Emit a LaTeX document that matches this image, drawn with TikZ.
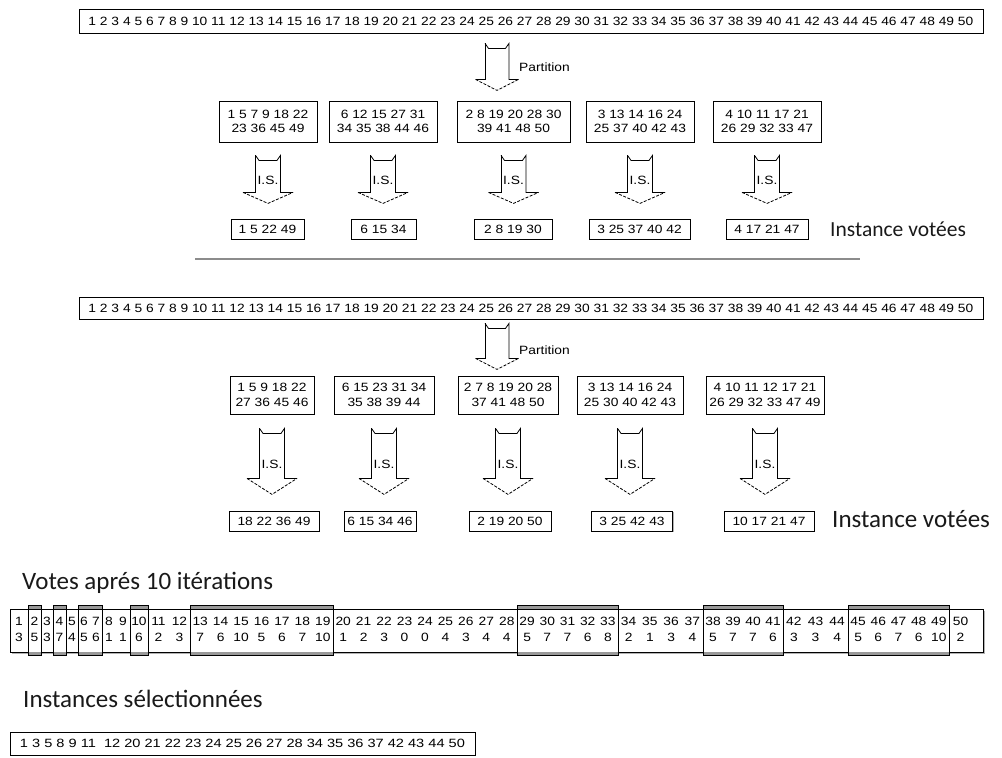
\documentclass[tikz,border=0pt]{standalone}
\usepackage{fontspec}
\usepackage{graphicx}
\usetikzlibrary{calc,shadows}
\newfontfamily\numfont[FakeStretch=1.15]{Liberation Sans}
\newfontfamily\lblfont{Carlito}
\newcommand\numsz{\numfont\fontsize{12}{14.5}\selectfont}
\newcommand\ttlsz[1]{\lblfont\fontsize{#1}{#1}\selectfont}

\begin{document}
\begin{tikzpicture}[x=1pt,y=-1pt,
  box/.style={draw=black, line width=0.8pt, fill=white, inner sep=0pt,
    align=center, font=\numsz,
    drop shadow={shadow xshift=1.2pt, shadow yshift=-1.2pt, fill=black, opacity=0.3}},
  arrline/.style={draw=black, line width=0.8pt, line join=miter},
  arrhead/.style={draw=black, line width=0.8pt, dash pattern=on 3pt off 1.5pt},
  islbl/.style={font=\numsz, inner sep=0pt},
  partlbl/.style={font=\numsz, inner sep=0pt, anchor=west},
  ttl/.style={inner sep=0pt, text=black!90},
  sepline/.style={draw=black!45, line width=1.2pt},
  tblline/.style={draw=black, line width=0.8pt},
  hiband/.style={fill=black!40},
  pics/blockarrow/.style n args={4}{code={
    % #1 shaft half width, #2 head half width, #3 shoulder depth, #4 tip depth
    \draw[arrline] (-#1,0) -- (-#1+3.5,5) -- (#1-3.5,5) -- (#1,0) -- (#1,#3) -- (#2,#3);
    \draw[arrline] (-#1,0) -- (-#1,#3) -- (-#2,#3);
    \draw[arrhead] (-#2,#3) -- (0,#4) -- (#2,#3);
  }},
]
\useasboundingbox (0,0) rectangle (1002,758);

% ---------- first run ----------
\node[box, minimum width=904pt, minimum height=24pt] (bar1) at (531,21)
  {\resizebox{885pt}{\height}{\numsz 1 2 3 4 5 6 7 8 9 10 11 12 13 14 15 16 17 18 19 20 21 22 23 24 25 26 27 28 29 30 31 32 33 34 35 36 37 38 39 40 41 42 43 44 45 46 47 48 49 50}};

\pic at ($(bar1.south)+(-34,10)$) {blockarrow={12}{21.5}{36}{47}};
\node[partlbl] (part1) at ($(bar1.south)+(-12,34)$) {Partition};

\node[box, minimum width=98pt,  minimum height=41pt] (p1) at (268,121.5)   {1 5 7 9 18 22\\23 36 45 49};
\node[box, minimum width=108pt, minimum height=41pt] (p2) at (383,121.5)   {6 12 15 27 31\\34 35 38 44 46};
\node[box, minimum width=113pt, minimum height=41pt] (p3) at (513.5,121.5) {2 8 19 20 28 30\\39 41 48 50};
\node[box, minimum width=108pt, minimum height=41pt] (p4) at (640,121.5)   {3 13 14 16 24\\25 37 40 42 43};
\node[box, minimum width=108pt, minimum height=41pt] (p5) at (767,121.5)   {4 10 11 17 21\\26 29 32 33 47};

\foreach \i in {1,...,5}{
  \pic at ($(p\i.south)+(0,13)$) {blockarrow={12.5}{25}{37}{48}};
  \node[islbl] (is\i) at ($(p\i.south)+(0,38)$) {I.S.};
}

\node[box, minimum width=73pt,  minimum height=20pt] (r1) at (267.5,229) {1 5 22 49};
\node[box, minimum width=65pt,  minimum height=20pt] (r2) at (383.5,229) {6 15 34};
\node[box, minimum width=78pt,  minimum height=20pt] (r3) at (513,229)   {2 8 19 30};
\node[box, minimum width=101pt, minimum height=20pt] (r4) at (639.5,229) {3 25 37 40 42};
\node[box, minimum width=82pt,  minimum height=20pt] (r5) at (767,229)   {4 17 21 47};

\node[ttl, anchor=west, font=\ttlsz{21.5}] (iv1) at (830,229) {Instance votées};

\draw[sepline] (195,259) -- (860,259);

% ---------- second run ----------
\node[box, minimum width=904pt, minimum height=22pt] (bar2) at (531,308)
  {\resizebox{885pt}{\height}{\numsz 1 2 3 4 5 6 7 8 9 10 11 12 13 14 15 16 17 18 19 20 21 22 23 24 25 26 27 28 29 30 31 32 33 34 35 36 37 38 39 40 41 42 43 44 45 46 47 48 49 50}};

\pic at ($(bar2.south)+(-34,4)$) {blockarrow={12}{21.5}{35}{46}};
\node[partlbl] (part2) at ($(bar2.south)+(-12,31)$) {Partition};

\node[box, minimum width=84pt,  minimum height=38pt] (q1) at (272,395) {1 5 9 18 22\\27 36 45 46};
\node[box, minimum width=100pt, minimum height=38pt] (q2) at (384,395) {6 15 23 31 34\\35 38 39 44};
\node[box, minimum width=100pt, minimum height=38pt] (q3) at (508,395) {2 7 8 19 20 28\\37 41 48 50};
\node[box, minimum width=106pt, minimum height=38pt] (q4) at (630,395) {3 13 14 16 24\\25 30 40 42 43};
\node[box, minimum width=118pt, minimum height=38pt] (q5) at (765,395) {4 10 11 12 17 21\\26 29 32 33 47 49};

\foreach \i in {1,...,5}{
  \pic at ($(q\i.south)+(0,14)$) {blockarrow={12.5}{25}{50}{66}};
  \node[islbl] (js\i) at ($(q\i.south)+(0,50)$) {I.S.};
}

\node[box, minimum width=90pt, minimum height=20pt] (s1) at (274,521) {18 22 36 49};
\node[box, minimum width=72pt, minimum height=20pt] (s2) at (380,521) {6 15 34 46};
\node[box, minimum width=82pt, minimum height=20pt] (s3) at (510,521) {2 19 20 50};
\node[box, minimum width=81pt, minimum height=20pt] (s4) at (632,521) {3 25 42 43};
\node[box, minimum width=90pt, minimum height=20pt] (s5) at (769,521) {10 17 21 47};

\node[ttl, anchor=west, font=\ttlsz{25}] (iv2) at (832,519) {Instance votées};

% ---------- votes after 10 iterations ----------
\node[ttl, anchor=base west, font=\ttlsz{25}] (vt) at (22,589) {Votes aprés 10 itérations};

\def\votelist{{3,5,3,7,4,5,6,1,1,6,2,3,7,6,10,5,6,7,10,1,2,3,0,0,4,3,4,4,5,7,7,6,8,2,1,3,4,5,7,7,6,3,3,4,5,6,7,6,10,2}}
\def\groups{10/28/1/1/0/28, 28/41/2/2/1/41, 41/53/3/3/0/53, 53/66/4/4/1/66,
  66/78/5/5/0/78, 78/102/6/7/1/102, 102/130/8/9/0/130, 130/148/10/10/1/148,
  148/190/11/12/0/190, 190/333/13/19/1/333, 333/517/20/28/0/517,
  517/618/29/33/1/618, 618/703/34/37/0/703, 703/783/38/41/1/783,
  783/848/42/44/0/848, 848/949/45/49/1/949, 949/983/50/50/0/972}

% frame and plain groups
\fill[black!30] (11.5,611) rectangle (984.5,653.5);
\draw[tblline, fill=white] (10,609) rectangle (983,652);
\foreach \a/\b/\f/\l/\h/\e in \groups {
  \ifnum\h=0 \draw[tblline] (\a,609) rectangle (\b,652); \fi
}
% groups with five votes or more
\foreach \a/\b/\f/\l/\h/\e in \groups {
  \ifnum\h=1
    \fill[hiband] (\a,605.5) rectangle (\b,609);
    \fill[hiband] (\a,652) rectangle (\b,655.5);
    \draw[tblline, line width=0.9pt] (\a,605.5) rectangle (\b,655.5);
  \fi
}
% instance numbers and their votes
\foreach \a/\b/\f/\l/\h/\e in \groups {
  \foreach \k in {\f,...,\l}{
    \pgfmathsetmacro\cx{\a+(\k-\f+0.5)*(\e-\a)/(\l-\f+1)}
    \pgfmathtruncatemacro\vv{\votelist[\k-1]}
    \node[islbl, anchor=base] (n\k) at (\cx,625) {\k};
    \node[islbl, anchor=base] (v\k) at (\cx,641) {\vv};
  }
}

% ---------- selected instances ----------
\node[ttl, anchor=base west, font=\ttlsz{25}] (sl) at (23,707) {Instances sélectionnées};
\node[box, minimum width=465pt, minimum height=23pt] (sel) at (242.5,743.5)
  {\resizebox{445pt}{\height}{\numsz 1 3 5 8 9 11~~12 20 21 22 23 24 25 26 27 28 34 35 36 37 42 43 44 50}};

\end{tikzpicture}
\end{document}
